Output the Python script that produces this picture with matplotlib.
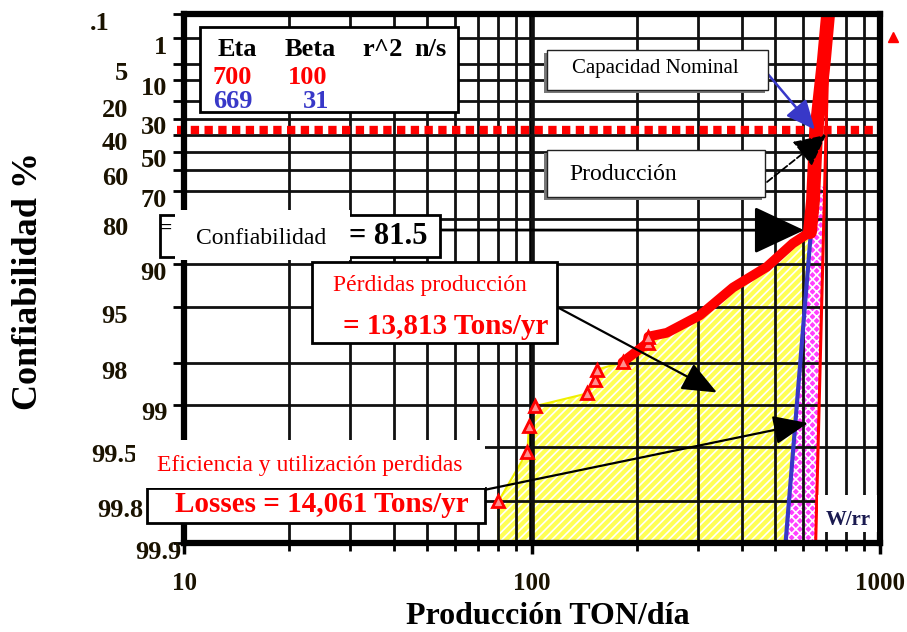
import numpy as np
import matplotlib
matplotlib.use("Agg")
import matplotlib.pyplot as plt
from matplotlib.patches import Rectangle
from matplotlib import transforms

# -----------------------------------------
# Data
# -----------------------------------------
rel_ticks = [0.1, 1, 5, 10, 20, 30, 40, 50, 60, 70, 80, 90, 95, 98, 99, 99.5, 99.8, 99.9]
rel_labels = [".1", "1", "5", "10", "20", "30", "40", "50", "60", "70", "80", "90",
              "95", "98", "99", "99.5", "99.8", "99.9"]
prod_minor = [20, 30, 40, 50, 60, 70, 80, 90, 200, 300, 400, 500, 600, 700, 800, 900]

# lower (scattered) production points
prod_lo = [80, 97, 98, 102, 144, 152, 154, 182, 215, 216]
rel_lo = [99.8, 99.54, 99.29, 99.02, 98.79, 98.49, 98.2, 97.97, 97.2, 96.9]
# upper (dense) production points
prod_hi = [244, 304, 378, 473, 562, 629, 642, 655, 690, 709]
rel_hi = [96.7, 95.6, 93.1, 90.4, 86.1, 83.5, 73.5, 38.9, 4.1, 0.11]

# fitted Weibull lines (legend values)
eta = [700, 669]
beta = [100, 31]
fit_colors = ["red", "#3838c8"]

eta_rel = 36.79  # characteristic life line


# Weibull probability scale (increasing with reliability)
def wfwd(r):
    r = np.asarray(r, dtype=float)
    with np.errstate(all="ignore"):
        return -np.log(-np.log(r / 100.0))


def winv(t):
    t = np.asarray(t, dtype=float)
    with np.errstate(all="ignore"):
        return 100.0 * np.exp(-np.exp(-t))


def wline(e, b, r):
    # production at reliability r for a Weibull line
    return e * (-np.log(np.asarray(r) / 100.0)) ** (1.0 / b)


W, H = 907, 632


def fx(px):
    return px / W


def fy(py):
    return 1 - py / H


def px_rect(x0, y0, x1, y1, **kw):
    return Rectangle((fx(x0), fy(y1)), (x1 - x0) / W, (y1 - y0) / H,
                     transform=fig.transFigure, clip_on=False, **kw)


plt.rcParams["font.family"] = ["Liberation Serif", "DejaVu Serif"]
plt.rcParams["hatch.linewidth"] = 1.2

fig = plt.figure(figsize=(W / 100, H / 100), dpi=100)
ax = fig.add_axes([184 / W, (H - 543) / H, 696 / W, 529 / H])

ax.set_xscale("log")
ax.set_yscale("function", functions=(wfwd, winv))

# yellow loss area (between data and blue line)
r_top = rel_hi[5]
left_x = [prod_lo[0]] + prod_lo + prod_hi[:6]
left_r = [99.9] + rel_lo + rel_hi[:6]
poly_x = left_x + [wline(eta[1], beta[1], r_top), wline(eta[1], beta[1], 99.9)]
poly_r = left_r + [r_top, 99.9]
ax.fill(poly_x, poly_r, facecolor="#ffff55", edgecolor="white", hatch="////",
        linewidth=0, zorder=1)
ax.plot(left_x, left_r, color="#f0f000", lw=1.5, zorder=1.5)

# magenta area (between the two fitted lines)
rr = np.array([68.0, 99.9])
ax.fill_betweenx(rr, wline(eta[1], beta[1], rr), wline(eta[0], beta[0], rr),
                 facecolor="#ff40ff", edgecolor="white", hatch="xxxx",
                 linewidth=0, zorder=1)

# grid
ax.set_xticks([10, 100, 1000])
ax.set_xticks(prod_minor, minor=True)
ax.set_xticklabels(["10", "100", "1000"], fontsize=18, fontweight="bold", color="#1a1200")
ax.xaxis.set_minor_formatter(plt.NullFormatter())
ax.set_yticks(rel_ticks)
ax.set_yticklabels([""] * len(rel_ticks))
ax.grid(True, which="both", color="#111111", lw=2.0, zorder=2)
ax.set_axisbelow(False)
ax.axvline(100, color="black", lw=4, zorder=2)
ax.tick_params(axis="x", which="major", length=8, width=2.5, pad=13)
ax.tick_params(axis="x", which="minor", length=6, width=2)
ax.tick_params(axis="y", length=8, width=2)

# eta reference line
ax.axhline(eta_rel, xmin=-0.01, xmax=0.998, color="red", lw=6,
           dashes=(1.0, 0.65), zorder=3, clip_on=False)

# fitted Weibull lines
rr = np.array([0.1, 99.9])
ax.plot(wline(eta[1], beta[1], rr), rr, color=fit_colors[1], lw=3, zorder=4)
ax.plot(wline(eta[0], beta[0], rr), rr, color=fit_colors[0], lw=2.2, zorder=4)

# production data
ax.plot(prod_lo[-3:] + prod_hi, rel_lo[-3:] + rel_hi, color="red", lw=7,
        solid_capstyle="round", zorder=5)
ax.plot(prod_hi[5:], rel_hi[5:], color="red", lw=10, solid_capstyle="round", zorder=5)
ax.plot(prod_lo, rel_lo, ls="none", marker="^", ms=8, mfc="#ff9090", mec="red",
        mew=2, zorder=5)
ax.plot([1089], [0.91], ls="none", marker="^", ms=7, color="red", clip_on=False, zorder=5)

ax.set_xlim(10, 1000)
ax.set_ylim(99.9, 0.1)

for sp in ax.spines.values():
    sp.set_linewidth(4.5)
    sp.set_zorder(6)

# staggered y tick labels
ytick_right_px = [110, 167, 128, 167, 128, 167, 128, 167, 128, 167, 128, 167,
                  128, 128, 168, 137, 143, 182]
ytrans = transforms.offset_copy(ax.get_yaxis_transform(), fig=fig, x=0, y=-6.5,
                                units="points")
for r, lab, xr in zip(rel_ticks, rel_labels, ytick_right_px):
    ax.text((xr - 184) / 696, r, lab, transform=ytrans, ha="right", va="center",
            fontsize=19, fontweight="bold", color="#1a1200", clip_on=False, zorder=7)

fig.text(0.031, 0.555, "Confiabilidad %", rotation=90, ha="center", va="center",
         fontsize=26, fontweight="bold")
fig.text(fx(548), fy(617), "Producción TON/día", ha="center", va="center",
         fontsize=23, fontweight="bold")

# legend box
fig.patches.append(px_rect(200, 27, 458, 112, facecolor="white", edgecolor="black",
                           lw=2, zorder=8))
for lab, xp in zip(["Eta", "Beta", "r^2", "n/s"], [218, 285, 362, 414]):
    fig.text(fx(xp), fy(50), lab, ha="left", va="center", fontsize=19,
             fontweight="bold", zorder=9)
fig.text(fx(213), fy(78), "700", ha="left", va="center", fontsize=19,
         fontweight="bold", color="red", zorder=9)
fig.text(fx(288), fy(78), "100", ha="left", va="center", fontsize=19,
         fontweight="bold", color="red", zorder=9)
fig.text(fx(213), fy(101), "669", ha="left", va="center", fontsize=19,
         fontweight="bold", color=fit_colors[1], zorder=9)
fig.text(fx(303), fy(101), "31", ha="left", va="center", fontsize=19,
         fontweight="bold", color=fit_colors[1], zorder=9)

# Capacidad Nominal
fig.patches.append(px_rect(544, 53, 765, 93, facecolor="#777777", lw=0, zorder=8))
fig.patches.append(px_rect(547, 50, 768, 90, facecolor="white", edgecolor="#222222",
                           lw=1, zorder=8))
fig.text(fx(655), fy(69), "Capacidad Nominal", ha="center", va="center", fontsize=15,
         zorder=9)
ax.annotate("", xy=(650, eta_rel), xycoords="data",
            xytext=(fx(767), fy(73)), textcoords="figure fraction",
            arrowprops=dict(arrowstyle="-|>,head_length=1.0,head_width=0.45",
                            mutation_scale=18, color=fit_colors[1], lw=1.8,
                            shrinkA=0, shrinkB=0), zorder=9)

# Producción
fig.patches.append(px_rect(544, 153, 762, 200, facecolor="#777777", lw=0, zorder=8))
fig.patches.append(px_rect(547, 150, 765, 197, facecolor="white", edgecolor="#222222",
                           lw=1, zorder=8))
fig.text(fx(569), fy(175), "Producción", ha="left", va="center", fontsize=17, zorder=9)
ax.annotate("", xy=(700, 40), xycoords="data",
            xytext=(fx(767), fy(182)), textcoords="figure fraction",
            arrowprops=dict(arrowstyle="-|>,head_length=1.1,head_width=0.55",
                            mutation_scale=18, color="black", lw=1.3, ls="--",
                            shrinkA=0, shrinkB=0), zorder=9)

# Confiabilidad
fig.patches.append(px_rect(160, 215, 440, 257, facecolor="white", edgecolor="black",
                           lw=2, zorder=8))
fig.patches.append(px_rect(175, 210, 350, 260, facecolor="white", lw=0, zorder=8))
fig.text(fx(166), fy(229), "=", ha="center", va="center", fontsize=17,
         fontweight="bold", zorder=9)
fig.text(fx(261), fy(238), "Confiabilidad", ha="center", va="center", fontsize=17,
         zorder=9)
fig.text(fx(349), fy(237), "= 81.5", ha="left", va="center", fontsize=22,
         fontweight="bold", zorder=9)
ax.annotate("", xy=(605, 83.0), xycoords="data",
            xytext=(fx(440), fy(230)), textcoords="figure fraction",
            arrowprops=dict(arrowstyle="-|>,head_length=1.6,head_width=0.75",
                            mutation_scale=20, color="black", lw=2,
                            shrinkA=0, shrinkB=0), zorder=9)

# Pérdidas producción
fig.patches.append(px_rect(312, 262, 557, 343, facecolor="white", edgecolor="black",
                           lw=2, zorder=8))
fig.text(fx(430), fy(285), "Pérdidas producción", ha="center", va="center",
         fontsize=17, color="red", zorder=9)
fig.text(fx(446), fy(326), "= 13,813 Tons/yr", ha="center", va="center",
         fontsize=21, fontweight="bold", color="red", zorder=9)
ax.annotate("", xy=(340, 98.77), xycoords="data",
            xytext=(fx(557), fy(307)), textcoords="figure fraction",
            arrowprops=dict(arrowstyle="-|>,head_length=1.2,head_width=0.5",
                            mutation_scale=18, color="black", lw=1.6,
                            shrinkA=0, shrinkB=0), zorder=9)

# Eficiencia y utilización perdidas
fig.patches.append(px_rect(147, 488, 485, 523, facecolor="white", edgecolor="black",
                           lw=2, zorder=8))
fig.patches.append(px_rect(135, 440, 485, 488, facecolor="white", lw=0, zorder=8))
fig.text(fx(310), fy(466), "Eficiencia y utilización perdidas", ha="center",
         va="center", fontsize=17, color="red", zorder=9)
fig.text(fx(322), fy(505), "Losses = 14,061 Tons/yr", ha="center", va="center",
         fontsize=21, fontweight="bold", color="red", zorder=9)
ax.annotate("", xy=(621, 99.26), xycoords="data",
            xytext=(fx(484), fy(490)), textcoords="figure fraction",
            arrowprops=dict(arrowstyle="-|>,head_length=1.2,head_width=0.5",
                            mutation_scale=18, color="black", lw=1.6,
                            shrinkA=0, shrinkB=0), zorder=9)

# W/rr tag
fig.patches.append(px_rect(818, 495, 877, 532, facecolor="white", lw=0, zorder=8))
fig.text(fx(848), fy(520), "W/rr", ha="center", va="center", fontsize=15,
         fontweight="bold", color="#1a1a50", zorder=9)

fig.savefig("out.png", dpi=100)
